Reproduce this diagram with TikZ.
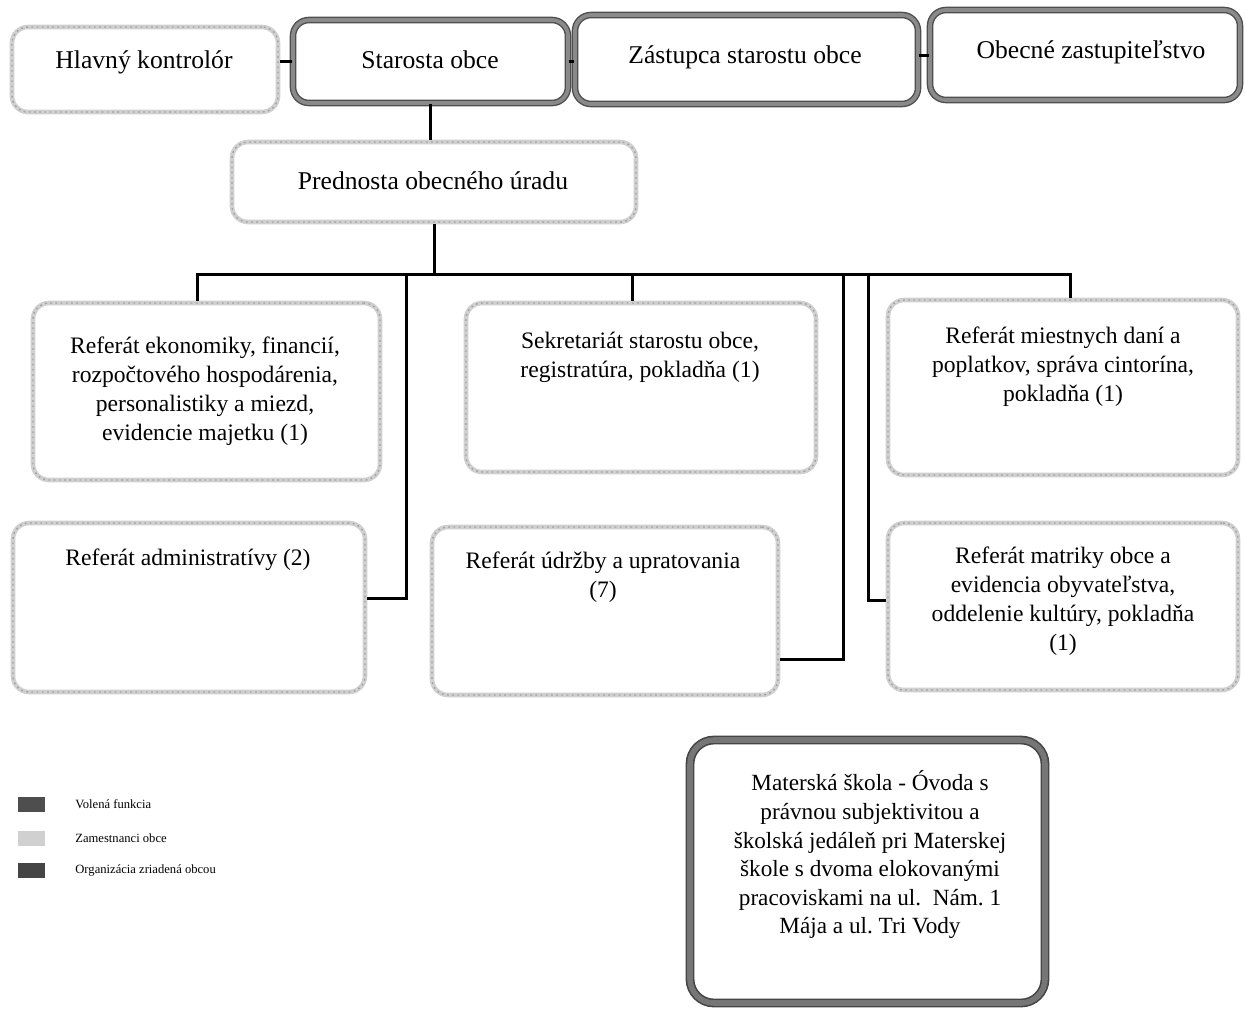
\documentclass[tikz,border=0pt]{standalone}
\usepackage{fontspec}
\setmainfont{Liberation Serif}
\usetikzlibrary{calc}
\frenchspacing
\definecolor{elect}{HTML}{8A8A8A}
\definecolor{electdark}{HTML}{4E4E4E}
\definecolor{emp}{HTML}{D0D0D0}
\definecolor{empdark}{HTML}{A2A2A2}
\definecolor{org}{HTML}{767676}
\definecolor{orgdark}{HTML}{454545}
\tikzset{
  boxbase/.style={rectangle, rounded corners=8pt, fill=white, inner sep=0pt},
  electbox/.style={boxbase, draw=electdark, double=elect, double distance=1.9pt, line width=0.7pt},
  empbox/.style={boxbase, draw=emp, line width=2.3pt,
     postaction={draw=empdark, line width=0.7pt, dash pattern=on 0.9pt off 1.7pt}},
  orgbox/.style={boxbase, rounded corners=12pt, draw=orgdark, double=org, double distance=2.8pt, line width=0.8pt},
  toptxt/.style={align=center, inner sep=0pt, font=\fontsize{12.8}{15}\selectfont},
  reftxt/.style={align=center, inner sep=0pt, font=\fontsize{11.8}{14.5}\selectfont},
  orgtxt/.style={align=center, inner sep=0pt, font=\fontsize{11.6}{14.3}\selectfont},
  legtxt/.style={anchor=west, inner sep=0pt, font=\fontsize{6.3}{7.5}\selectfont},
  conn/.style={draw=black, line width=1.5pt},
  swatch/.style={rectangle, inner sep=0pt, minimum width=13.5pt, minimum height=7.5pt}
}
\begin{document}
\begin{tikzpicture}[x=0.5pt,y=-0.5pt]
\useasboundingbox (0,0) rectangle (1245,1008);

% top row
\node[empbox, minimum width=133pt, minimum height=42.5pt] (hk) at (145,69.5) {};
\node[electbox, minimum width=137.5pt, minimum height=41.5pt] (st) at (430.5,61.5) {};
\node[electbox, minimum width=171.5pt, minimum height=44.5pt] (zs) at (746.5,59.5) {};
\node[electbox, minimum width=155pt, minimum height=45pt] (oz) at (1085,55) {};

\node[toptxt] (hkt) at (144,62) {Hlavný kontrolór};
\node[toptxt] (stt) at (430,60) {Starosta obce};
\node[toptxt] (zst) at (745,57) {Zástupca starostu obce};
\node[toptxt] (ozt) at (1091,52) {Obecné zastupiteľstvo};

% Prednosta
\node[empbox, minimum width=202pt, minimum height=40pt] (pr) at (434,182) {};
\node[toptxt] (prt) at (433,181) {Prednosta obecného úradu};

% referaty
\node[empbox, minimum width=173.5pt, minimum height=88.5pt] (ek) at (206.5,391.5) {};
\node[empbox, minimum width=176pt, minimum height=84.5pt] (ad) at (189,607.5) {};
\node[empbox, minimum width=175pt, minimum height=84.5pt] (se) at (641,387.5) {};
\node[empbox, minimum width=173pt, minimum height=84pt] (ud) at (605,611) {};
\node[empbox, minimum width=175pt, minimum height=87.5pt] (mi) at (1063,387.5) {};
\node[empbox, minimum width=175pt, minimum height=83.5pt] (ma) at (1063,606.5) {};

\node[reftxt] (ekt) at (205,391) {Referát ekonomiky, financií,\\rozpočtového hospodárenia,\\personalistiky a miezd,\\evidencie majetku (1)};
\node[reftxt] (adt) at (188,560) {Referát administratívy (2)};
\node[reftxt] (set) at (640,357) {Sekretariát starostu obce,\\registratúra, pokladňa (1)};
\node[reftxt] (udt) at (603,577) {Referát údržby a upratovania\\(7)};
\node[reftxt] (mit) at (1063,367) {Referát miestnych daní a\\poplatkov, správa cintorína,\\pokladňa (1)};
\node[reftxt] (mat) at (1063,601) {Referát matriky obce a\\evidencia obyvateľstva,\\oddelenie kultúry, pokladňa\\(1)};

% Materska skola
\node[orgbox, minimum width=177.5pt, minimum height=131.5pt] (ms) at (867.5,871.5) {};
\node[orgtxt] (mst) at (870,855) {Materská škola - Óvoda s\\právnou subjektivitou a\\školská jedáleň pri Materskej\\škole s dvoma elokovanými\\pracoviskami na ul.\ \ Nám. 1\\Mája a ul. Tri Vody};

% connectors
\coordinate (busL) at (197,274);
\coordinate (busR) at (1070,274);
\coordinate (j1) at (632,274);
\coordinate (j2) at (406,274);
\coordinate (j3) at (843,274);
\coordinate (j4) at (868,274);

\draw[conn] (st.west) -- (st.west -| hk.east);
\draw[conn] (st.east) -- (st.east -| zs.west);
\draw[conn] ($(zs.east)+(0,-4)$) -- ($(zs.east -| oz.west)+(0,-4)$);
\draw[conn] (st.south) -- (st.south |- pr.north);
\draw[conn] (pr.south) -- (pr.south |- busL);
\draw[conn] (busL |- ek.north) -- (busL) -- (busR) -- (busR |- mi.north);
\draw[conn] (j1) -- (j1 |- se.north);
\draw[conn] (j2) |- ($(ad.east)+(0,-9.5)$);
\draw[conn] (j3) |- ($(ud.east)+(0,48)$);
\draw[conn] (j4) |- ($(ma.west)+(0,-6.5)$);

% legend
\node[swatch, fill=electdark] (lg1) at (31.5,804) {};
\node[swatch, fill=emp] (lg2) at (31.5,838) {};
\node[swatch, fill=orgdark] (lg3) at (31.5,870) {};
\node[legtxt] (lg1t) at (75,804) {Volená funkcia};
\node[legtxt] (lg2t) at (75,838) {Zamestnanci obce};
\node[legtxt] (lg3t) at (75,870) {Organizácia zriadená obcou};
\end{tikzpicture}
\end{document}
